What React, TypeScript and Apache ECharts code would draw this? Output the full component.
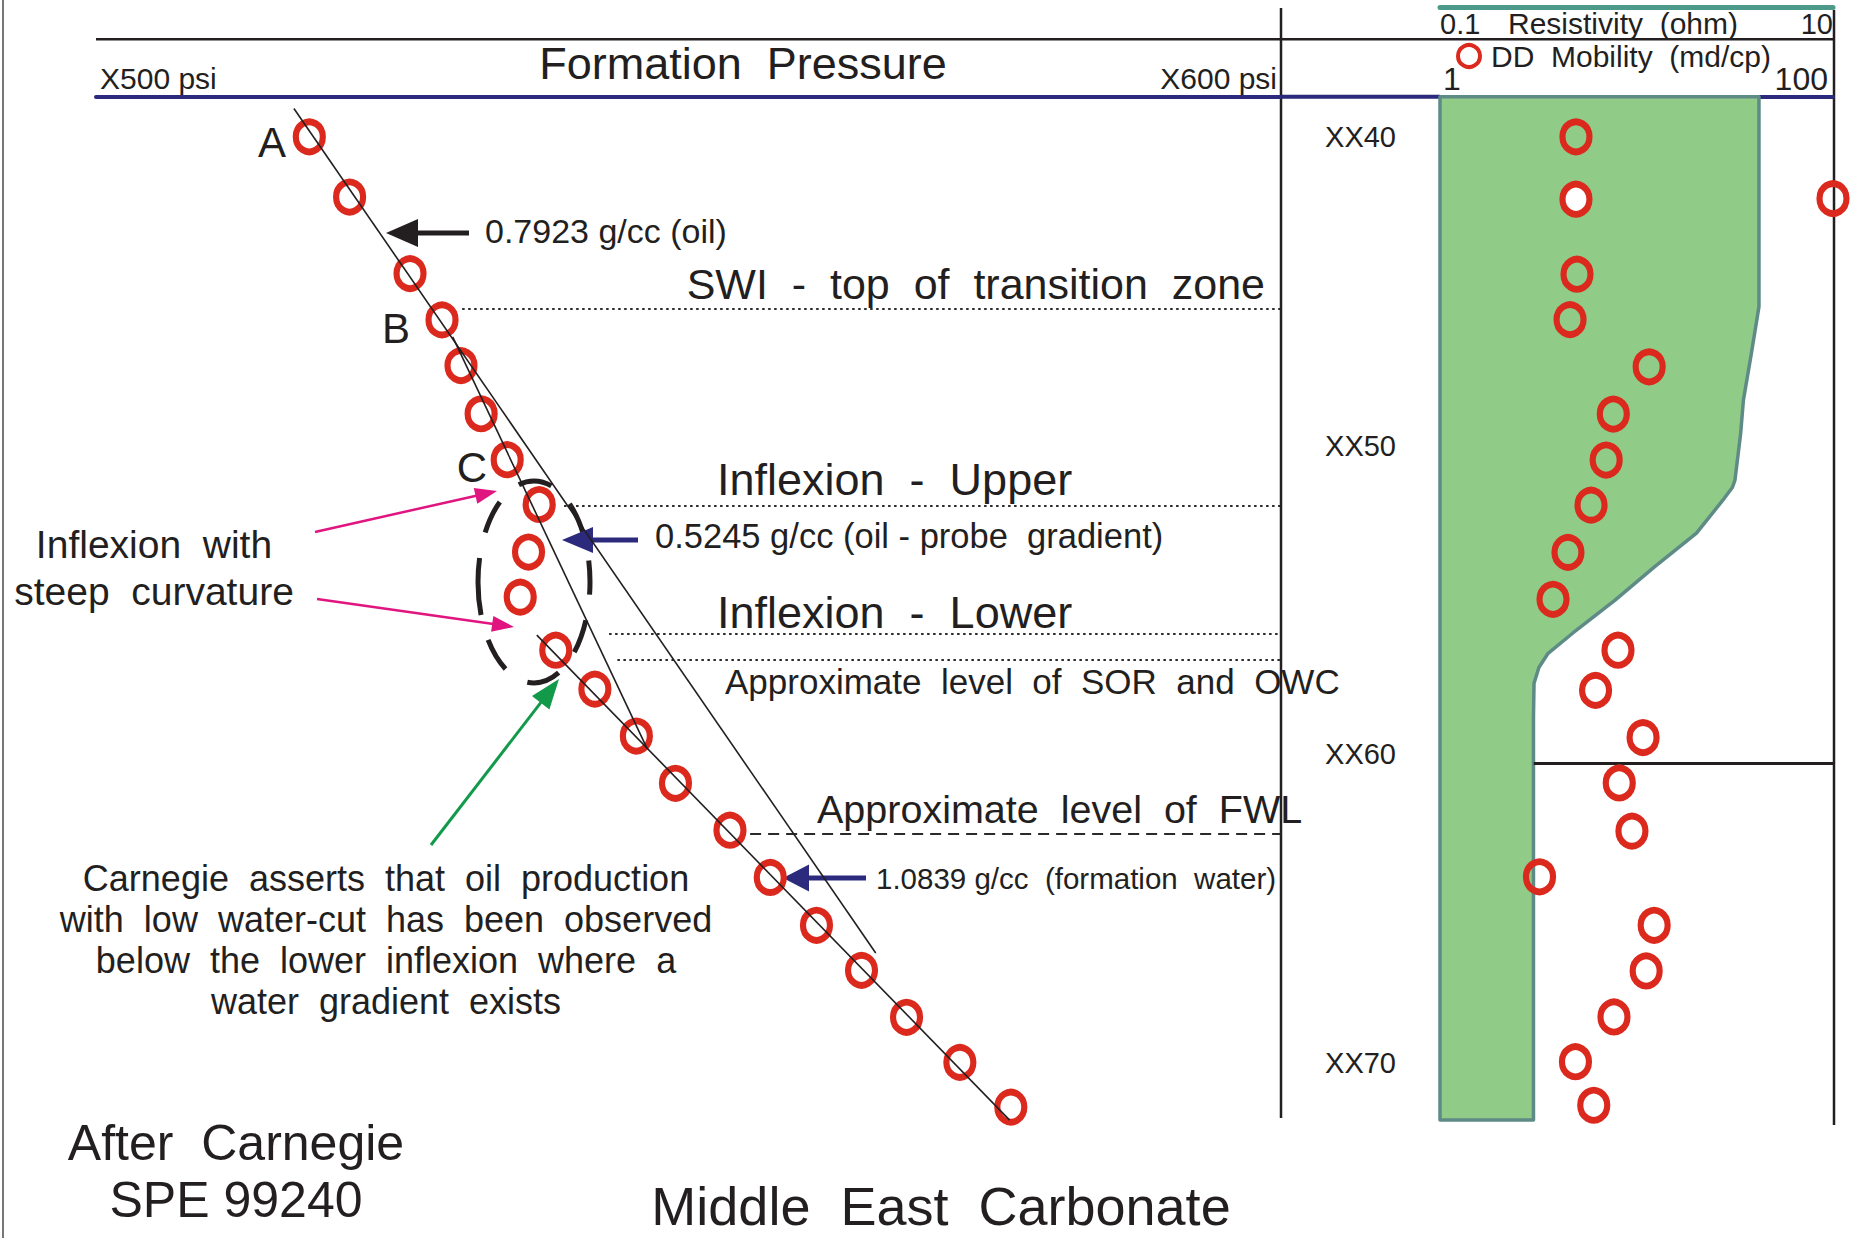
import React, { useEffect, useRef } from 'react';
import * as echarts from 'echarts';

const FONT = '"Liberation Sans", Arial, Helvetica, sans-serif';
const INK = '#231f20';
const RED = '#dc291e';
const NAVY = '#2b2a7c';
const TEAL = '#4e9a8a';
const GREEN_FILL = '#90cb88';
const GREEN_EDGE = '#5e8b86';

// ---- Data ----
// Formation pressure tests: depth (XX ft) and pressure (psi, XX500..XX600 scale)
const testDepth = [40.0, 41.95, 44.43, 45.93, 47.41, 48.97, 50.46, 51.91, 53.45, 54.91, 56.63, 57.89, 59.41, 60.94, 62.46, 63.99, 65.54, 67.0, 68.52, 69.98, 71.43];
const formationPressure = [518.0, 521.4, 526.5, 529.2, 530.8, 532.5, 534.7, 537.4, 536.5, 535.8, 538.8, 542.1, 545.6, 548.9, 553.5, 556.9, 560.8, 564.6, 568.4, 572.9, 577.2];

// Drawdown mobility (md/cp)
const mobilityDepth = [40.0, 42.02, 42.0, 44.45, 45.92, 47.45, 48.98, 50.47, 51.93, 53.46, 54.98, 56.63, 57.93, 59.46, 60.93, 62.49, 63.97, 65.54, 67.02, 68.51, 69.96, 71.37];
const ddMobility = [4.92, 4.92, 100, 4.98, 4.59, 11.6, 7.62, 7.01, 5.87, 4.48, 3.76, 8.05, 6.19, 10.8, 8.17, 9.48, 3.21, 12.3, 11.2, 7.68, 4.89, 6.06];
const whiteFilledMobilityIndex = 1;

// Resistivity log (ohm)
const resistivityDepth = [38.7, 45.5, 47.07, 48.53, 49.6, 51.12, 51.35, 51.77, 52.84, 53.94, 55.01, 56.08, 56.73, 57.18, 57.7, 58.8, 71.85];
const resistivity = [4.2, 4.2, 3.83, 3.5, 3.39, 3.17, 3.08, 2.75, 2.02, 1.23, 0.778, 0.473, 0.355, 0.319, 0.301, 0.299, 0.299];
const resistivityBase = 0.1;
const rightTrackLineDepth = 60.3;
const rightTrackLineFrom = 0.3;
const rightTrackLineTo = 10;

// Gradient lines (pressure, depth end points)
const oilGradientPressure = [516.7, 565.8];
const oilGradientDepth = [39.08, 66.44];
const probeGradientPressure = [530.1, 546.5];
const probeGradientDepth = [46.48, 59.81];
const waterGradientPressure = [537.2, 577.1];
const waterGradientDepth = [56.14, 71.85];

// Level lines (depth, pressure where the line begins); last one is dashed (FWL)
const levelDepth = [45.56, 51.96, 56.09, 56.93, 62.57];
const levelStartPressure = [530.9, 539.5, 543.3, 544.0, 555.2];
const levelEndPressure = 600;

// Ticks
const pressureTicks = [500, 600];
const pressureTickLabels = ['X500 psi', 'X600 psi'];
const mobilityTicks = [1, 100];
const mobilityTickLabels = ['1', '100'];
const resistivityTicks = [0.1, 10];
const resistivityTickLabels = ['0.1', '10'];
const depthTicks = [40, 50, 60, 70];
const depthTickLabels = ['XX40', 'XX50', 'XX60', 'XX70'];

const DEPTH_MIN = 38.7;
const DEPTH_MAX = 72;

function pickLabel(ticks: number[], labels: string[], v: number) {
  for (let i = 0; i < ticks.length; i++) {
    if (Math.abs(v - ticks[i]) <= Math.abs(ticks[i]) * 1e-6 + 1e-9) return labels[i];
  }
  return '';
}

function gline(x1: number, y1: number, x2: number, y2: number, color: string, w: number, extra: any = {}) {
  return { type: 'line', silent: true, shape: { x1, y1, x2, y2 }, style: { stroke: color, lineWidth: w, ...extra } };
}

function arrow(tail: number[], tip: number[], color: string, lw: number, headLen: number, headW: number) {
  const dx = tip[0] - tail[0];
  const dy = tip[1] - tail[1];
  const L = Math.hypot(dx, dy);
  const ux = dx / L, uy = dy / L;
  const bx = tip[0] - ux * headLen, by = tip[1] - uy * headLen;
  const nx = -uy, ny = ux;
  return [
    gline(tail[0], tail[1], bx + ux * 3, by + uy * 3, color, lw),
    {
      type: 'polygon', silent: true,
      shape: { points: [tip, [bx + nx * headW / 2, by + ny * headW / 2], [bx - nx * headW / 2, by - ny * headW / 2]] },
      style: { fill: color },
    },
  ];
}

function gtext(text: string, x: number, y: number, size: number, align: string, lineHeight?: number) {
  return {
    type: 'text', silent: true, x, y,
    style: {
      text, fill: INK, fontSize: size, fontFamily: FONT,
      align, verticalAlign: 'middle', textAlign: align, textVerticalAlign: 'middle',
      lineHeight: lineHeight || size * 1.15,
    },
  };
}

export default function App() {
  const ref = useRef<HTMLDivElement>(null);

  useEffect(() => {
    if (!ref.current) return;
    const chart = echarts.init(ref.current, undefined, { renderer: 'svg' });

    const ringStyle = { color: 'rgba(255,255,255,0)', borderColor: RED, borderWidth: 6.5, opacity: 1 };

    const resData = resistivity.map((r, i) => [r, resistivityDepth[i]]);

    const option: any = {
      animation: false,
      backgroundColor: '#ffffff',
      textStyle: { fontFamily: FONT },
      grid: [
        { left: 96, top: 96.7, width: 1185, height: 1028, outerBoundsMode: 'none', containLabel: false },
        { left: 1440, top: 96.7, width: 393, height: 1028, outerBoundsMode: 'none', containLabel: false },
      ],
      legend: {
        data: ['DD  Mobility  (md/cp)'],
        left: 1456, top: 41, padding: 0,
        itemWidth: 34, itemHeight: 22,
        icon: 'circle',
        selectedMode: false,
        itemStyle: { color: 'rgba(255,255,255,0)', borderColor: RED, borderWidth: 4, opacity: 1 },
        textStyle: { fontSize: 30, color: INK, fontFamily: FONT },
      },
      xAxis: [
        {
          type: 'value', gridIndex: 0, position: 'top', min: 500, max: 600, interval: 100,
          axisLine: { show: true, onZero: false, lineStyle: { color: NAVY, width: 4 } },
          axisTick: { show: false }, splitLine: { show: false },
          axisLabel: {
            fontSize: 30, color: INK, fontFamily: FONT, margin: 3, padding: [0, 4, 0, 4],
            alignMinLabel: 'left', alignMaxLabel: 'right',
            formatter: (v: number) => pickLabel(pressureTicks, pressureTickLabels, v),
          },
        },
        {
          type: 'log', logBase: 10, gridIndex: 1, position: 'top', offset: 89.4, min: 0.1, max: 10,
          axisLine: { show: true, onZero: false, lineStyle: { color: TEAL, width: 5 } },
          axisTick: { show: false }, splitLine: { show: false },
          axisLabel: {
            inside: true, fontSize: 29, color: INK, fontFamily: FONT, margin: 2,
            alignMinLabel: 'left', alignMaxLabel: 'right',
            formatter: (v: number) => pickLabel(resistivityTicks, resistivityTickLabels, v),
          },
        },
        {
          type: 'log', logBase: 10, gridIndex: 1, position: 'top', min: 1, max: 100,
          axisLine: { show: true, onZero: false, lineStyle: { color: NAVY, width: 4 } },
          axisTick: { show: false }, splitLine: { show: false },
          axisLabel: {
            fontSize: 32, color: INK, fontFamily: FONT, margin: 2, padding: [0, 5, 0, 3],
            alignMinLabel: 'left', alignMaxLabel: 'right',
            formatter: (v: number) => pickLabel(mobilityTicks, mobilityTickLabels, v),
          },
        },
      ],
      yAxis: [
        { type: 'value', gridIndex: 0, inverse: true, min: DEPTH_MIN, max: DEPTH_MAX, show: false },
        {
          type: 'value', gridIndex: 1, inverse: true, min: DEPTH_MIN, max: DEPTH_MAX, splitNumber: 3,
          position: 'left',
          axisLine: { show: false, onZero: false }, axisTick: { show: false }, splitLine: { show: false },
          axisLabel: {
            fontSize: 29, color: INK, fontFamily: FONT, margin: 44,
            customValues: depthTicks,
            formatter: (v: number) => pickLabel(depthTicks, depthTickLabels, v),
          },
        },
      ],
      series: [
        {
          type: 'custom', name: 'Resistivity', xAxisIndex: 1, yAxisIndex: 1, z: 1,
          data: resData,
          renderItem: (params: any, api: any) => {
            if (params.dataIndex !== 0) return null;
            const pts = [api.coord([resistivityBase, resistivityDepth[0]])];
            resData.forEach((d) => pts.push(api.coord(d)));
            pts.push(api.coord([resistivityBase, resistivityDepth[resistivityDepth.length - 1]]));
            return {
              type: 'polygon',
              shape: { points: pts },
              style: { fill: GREEN_FILL, stroke: GREEN_EDGE, lineWidth: 3.5, lineJoin: 'round' },
            };
          },
          markLine: {
            silent: true, symbol: ['none', 'none'], label: { show: false },
            lineStyle: { color: INK, width: 3, type: 'solid' },
            data: [[{ coord: [rightTrackLineFrom, rightTrackLineDepth] }, { coord: [rightTrackLineTo, rightTrackLineDepth] }]],
          },
        },
        {
          type: 'scatter', name: 'DD  Mobility  (md/cp)', xAxisIndex: 2, yAxisIndex: 1, z: 5, clip: false,
          symbol: 'circle', symbolSize: [27, 30],
          itemStyle: ringStyle,
          data: ddMobility.map((m, i) => (i === whiteFilledMobilityIndex
            ? { value: [m, mobilityDepth[i]], itemStyle: { color: '#ffffff' } }
            : [m, mobilityDepth[i]])),
        },
        {
          type: 'scatter', name: 'Formation Pressure', xAxisIndex: 0, yAxisIndex: 0, z: 5, clip: false,
          symbol: 'circle', symbolSize: [27, 30],
          itemStyle: ringStyle,
          data: formationPressure.map((p, i) => [p, testDepth[i]]),
          markLine: {
            silent: true, symbol: ['none', 'none'], label: { show: false },
            lineStyle: { color: '#2a2a2a', width: 2.2 },
            data: levelDepth.map((d, i) => [
              { coord: [levelStartPressure[i], d], lineStyle: { type: i === levelDepth.length - 1 ? [11, 7] : [2.5, 3.5], color: '#2a2a2a', width: 2.2 } },
              { coord: [levelEndPressure, d] },
            ]),
          },
        },
        {
          type: 'line', name: 'Oil gradient', xAxisIndex: 0, yAxisIndex: 0, z: 6, showSymbol: false, symbol: 'none',
          lineStyle: { color: INK, width: 1.6 },
          data: oilGradientPressure.map((p, i) => [p, oilGradientDepth[i]]),
        },
        {
          type: 'line', name: 'Probe gradient', xAxisIndex: 0, yAxisIndex: 0, z: 6, showSymbol: false, symbol: 'none',
          lineStyle: { color: INK, width: 1.6 },
          data: probeGradientPressure.map((p, i) => [p, probeGradientDepth[i]]),
        },
        {
          type: 'line', name: 'Water gradient', xAxisIndex: 0, yAxisIndex: 0, z: 6, showSymbol: false, symbol: 'none',
          lineStyle: { color: INK, width: 1.6 },
          data: waterGradientPressure.map((p, i) => [p, waterGradientDepth[i]]),
        },
      ],
      graphic: [
        // frame
        gline(3, 0, 3, 1238, '#777777', 2),
        gline(96, 39.3, 1834, 39.3, INK, 2.5),
        gline(1281, 96.7, 1440, 96.7, NAVY, 4),
        gline(1281, 8, 1281, 1118, INK, 2.5),
        gline(1834, 10, 1834, 1125, INK, 2.5),
        // dashed ellipse
        {
          type: 'ellipse', silent: true,
          shape: { cx: 534, cy: 582, rx: 56, ry: 101 },
          style: { fill: 'none', stroke: INK, lineWidth: 5, lineDash: [34, 26], lineDashOffset: 10 },
        },
        // arrows
        ...arrow([469, 233], [386, 233], INK, 5, 32, 28),
        ...arrow([638, 540], [562, 540], NAVY, 5, 31, 26),
        ...arrow([866, 878], [783, 878], NAVY, 5, 26, 27),
        ...arrow([315, 532], [497, 491], '#e0157f', 2.5, 22, 16),
        ...arrow([317, 599], [514, 627], '#e0157f', 2.5, 22, 16),
        ...arrow([431, 845], [559, 679], '#12994a', 3, 30, 22),
        // texts
        gtext('Resistivity  (ohm)', 1623, 23, 30, 'center'),
        gtext('Formation  Pressure', 743, 63, 45, 'center'),
        gtext('A', 272, 142, 42, 'center'),
        gtext('B', 396, 328, 42, 'center'),
        gtext('C', 472, 467, 42, 'center'),
        gtext('0.7923 g/cc (oil)', 485, 231, 34, 'left'),
        gtext('SWI  -  top  of  transition  zone', 1265, 284, 43, 'right'),
        gtext('Inflexion  -  Upper', 717, 479.5, 45, 'left'),
        gtext('0.5245 g/cc (oil - probe  gradient)', 655, 535.5, 34.5, 'left'),
        gtext('Inflexion  -  Lower', 717, 612.5, 45, 'left'),
        gtext('Approximate  level  of  SOR  and  OWC', 725, 681, 35, 'left'),
        gtext('Approximate  level  of  FWL', 817, 808.5, 39.5, 'left'),
        gtext('1.0839 g/cc  (formation  water)', 876, 878, 29.5, 'left'),
        gtext('Inflexion  with\nsteep  curvature', 154, 568, 39, 'center', 46.5),
        gtext('Carnegie  asserts  that  oil  production\nwith  low  water-cut  has  been  observed\nbelow  the  lower  inflexion  where  a\nwater  gradient  exists', 386, 940, 36, 'center', 41.2),
        gtext('After  Carnegie\nSPE 99240', 236, 1171, 50, 'center', 57),
        gtext('Middle  East  Carbonate', 941, 1206, 54, 'center', 58),
      ],
    };

    chart.setOption(option);
    return () => chart.dispose();
  }, []);

  return (
    <div
      ref={ref}
      style={{ position: 'fixed', left: 0, top: 0, width: 1855, height: 1238, background: '#fff' }}
    />
  );
}
